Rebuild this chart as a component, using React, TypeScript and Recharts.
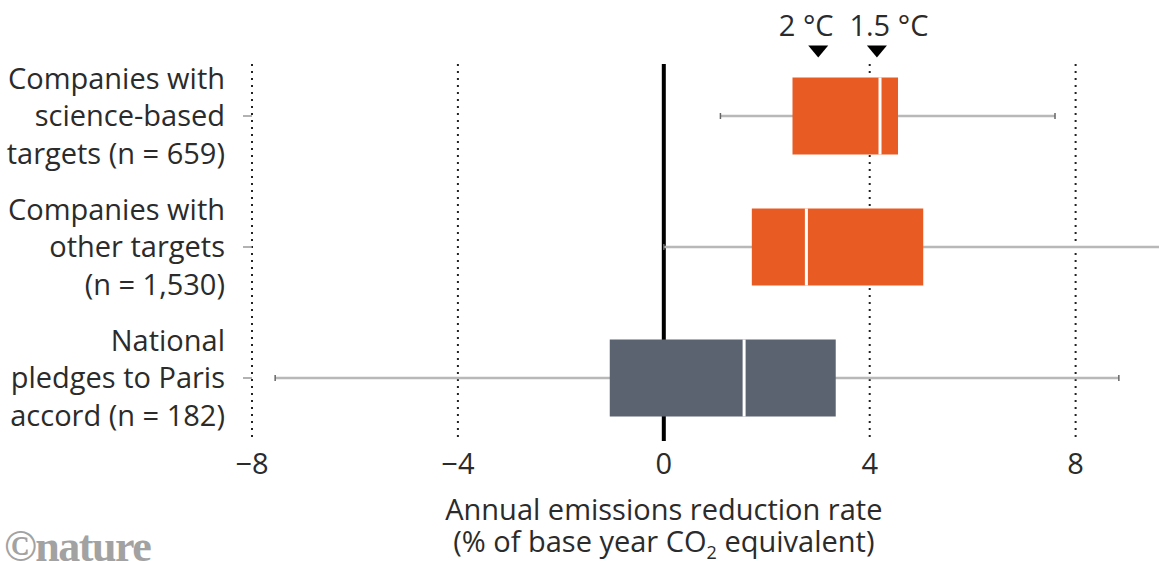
import React from "react";
import { ComposedChart, Bar, XAxis, YAxis, ReferenceLine, Cell } from "recharts";

// rows, top to bottom
const categories = ["science", "other", "national"];
const categoryLines = [
  ["Companies with", "science-based", "targets (n = 659)"],
  ["Companies with", "other targets", "(n = 1,530)"],
  ["National", "pledges to Paris", "accord (n = 182)"],
];

// box plot stats (% per year)
const whiskerLow = [1.1, 0, -7.55];
const quartile1 = [2.5, 1.71, -1.05];
const medians = [4.2, 2.77, 1.56];
const quartile3 = [4.55, 5.04, 3.34];
const whiskerHigh = [7.6, 10.2, 8.84];

const xTicks = [-8, -4, 0, 4, 8];
const gridValues = [-8, -4, 4, 8];
const markerValues = [3.0, 4.14];
const markerLabels = ["2 °C", "1.5 °C"];

const markerDx = [-12, 12];
const BOX_COLORS = ["#E85C24", "#E85C24", "#5B6270"];
const FONT = "'Open Sans', sans-serif";
const FS = 29;
const TEXT = "#2b2b2b";

const data = categories.map((name, i) => ({
  name,
  whisker: [whiskerLow[i], whiskerHigh[i]],
  box: [quartile1[i], quartile3[i]],
  median: [quartile1[i], medians[i]],
}));

const WhiskerShape = (props: any) => {
  const { x, y, width, height } = props;
  const cy = y + height / 2;
  return (
    <g>
      <line x1={x} x2={x + width} y1={cy} y2={cy} stroke="#b8b8b8" strokeWidth={2.5} />
      <line x1={x} x2={x} y1={cy - 3} y2={cy + 3} stroke="#666" strokeWidth={1.5} />
      <line x1={x + width} x2={x + width} y1={cy - 3} y2={cy + 3} stroke="#666" strokeWidth={1.5} />
    </g>
  );
};

const MedianShape = (props: any) => {
  const { x, y, width, height } = props;
  return <line x1={x + width} x2={x + width} y1={y} y2={y + height} stroke="#fff" strokeWidth={3} />;
};

// vertical lines start a bit below the top of the band range
const trimmed = (stroke: string, strokeWidth: number, dash?: string, bottomTrim = 3.5) => (p: any) => {
  const top = Math.min(p.y1, p.y2);
  const bottom = Math.max(p.y1, p.y2);
  return (
    <line
      x1={p.x1}
      x2={p.x2}
      y1={top + 13.5}
      y2={bottom - bottomTrim}
      stroke={stroke}
      strokeWidth={strokeWidth}
      strokeDasharray={dash}
    />
  );
};

const markerShape = (i: number) => (p: any) => {
  const x = p.x1;
  const top = Math.min(p.y1, p.y2);
  return (
    <g>
      <path d={`M${x - 10},${top - 5} L${x + 10},${top - 5} L${x},${top + 7} Z`} fill="#000" />
      <text x={x + markerDx[i]} y={top - 14.5} textAnchor="middle" fontSize={FS} fontFamily={FONT} fill={TEXT}>
        {markerLabels[i]}
      </text>
    </g>
  );
};

const CategoryTick = (props: any) => {
  const { x, y, payload } = props;
  const lines = categoryLines[categories.indexOf(payload.value)] || [];
  return (
    <g>
      {lines.map((line, i) => (
        <text
          key={i}
          x={x - 16}
          y={y + (i - 1) * 37.5}
          dy="0.35em"
          textAnchor="end"
          fontSize={FS}
          fontFamily={FONT}
          fill={TEXT}
        >
          {line}
        </text>
      ))}
    </g>
  );
};

const AxisTitle = (props: any) => {
  const vb = props.viewBox || {};
  const cx = vb.x;
  const bottom = vb.y + vb.height;
  return (
    <g>
      <text x={cx} y={bottom + 76.5} textAnchor="middle" fontSize={FS} fontFamily={FONT} fill={TEXT}>
        Annual emissions reduction rate
      </text>
      <text x={cx} y={bottom + 108} textAnchor="middle" fontSize={FS} fontFamily={FONT} fill={TEXT}>
        (% of base year CO
        <tspan fontSize={18} dy={7}>2</tspan>
        <tspan dy={-7}> equivalent)</tspan>
      </text>
    </g>
  );
};

export default function App() {
  return (
    <div style={{ position: "absolute", left: 0, top: 0, width: 1159, height: 561, background: "#fff", overflow: "hidden" }}>
      <ComposedChart
        width={1159}
        height={561}
        data={data}
        layout="vertical"
        margin={{ top: 50.5, right: 0, bottom: 77.5, left: 0 }}
      >
        <XAxis
          type="number"
          domain={[-8, 9.62]}
          allowDataOverflow
          ticks={xTicks}
          tickFormatter={(v) => (v < 0 ? `\u2212${Math.abs(v)}` : `${v}`)}
          axisLine={false}
          tickLine={false}
          tickSize={0}
          tickMargin={10}
          height={40}
          tick={{ fontSize: FS, fontFamily: FONT, fill: TEXT }}
        />
        <YAxis
          yAxisId="box"
          type="category"
          dataKey="name"
          width={252}
          axisLine={false}
          tickLine={{ stroke: "#999", strokeWidth: 1.5 }}
          tickSize={9}
          tick={<CategoryTick />}
        />
        <YAxis yAxisId="whisker" type="category" dataKey="name" hide />
        <YAxis yAxisId="median" type="category" dataKey="name" hide />

        {gridValues.map((v) => (
          <ReferenceLine
            key={`g${v}`}
            x={v}
            yAxisId="box"
            stroke="#222"
            zIndex={-60}
            shape={trimmed("#222", 2, "2 5")}
          />
        ))}

        <Bar yAxisId="whisker" dataKey="whisker" barSize={77} shape={<WhiskerShape />} isAnimationActive={false} />

        <ReferenceLine
          x={0}
          yAxisId="box"
          stroke="#000"
          zIndex={250}
          shape={trimmed("#000", 4, undefined, 2.5)}
          label={{ content: AxisTitle }}
        />

        <Bar yAxisId="box" dataKey="box" barSize={77} isAnimationActive={false}>
          {data.map((_, i) => (
            <Cell key={`c${i}`} fill={BOX_COLORS[i]} />
          ))}
        </Bar>
        <Bar yAxisId="median" dataKey="median" barSize={77} shape={<MedianShape />} isAnimationActive={false} />

        {markerValues.map((v, i) => (
          <ReferenceLine key={`m${v}`} x={v} yAxisId="box" ifOverflow="visible" shape={markerShape(i)} />
        ))}
      </ComposedChart>
      <div
        style={{
          position: "absolute",
          left: 4,
          top: 522,
          fontFamily: "'Liberation Serif', serif",
          fontWeight: "bold",
          fontSize: 44,
          lineHeight: "50px",
          color: "#a2a2a2",
          letterSpacing: -1.5,
        }}
      >
        ©nature
      </div>
    </div>
  );
}
